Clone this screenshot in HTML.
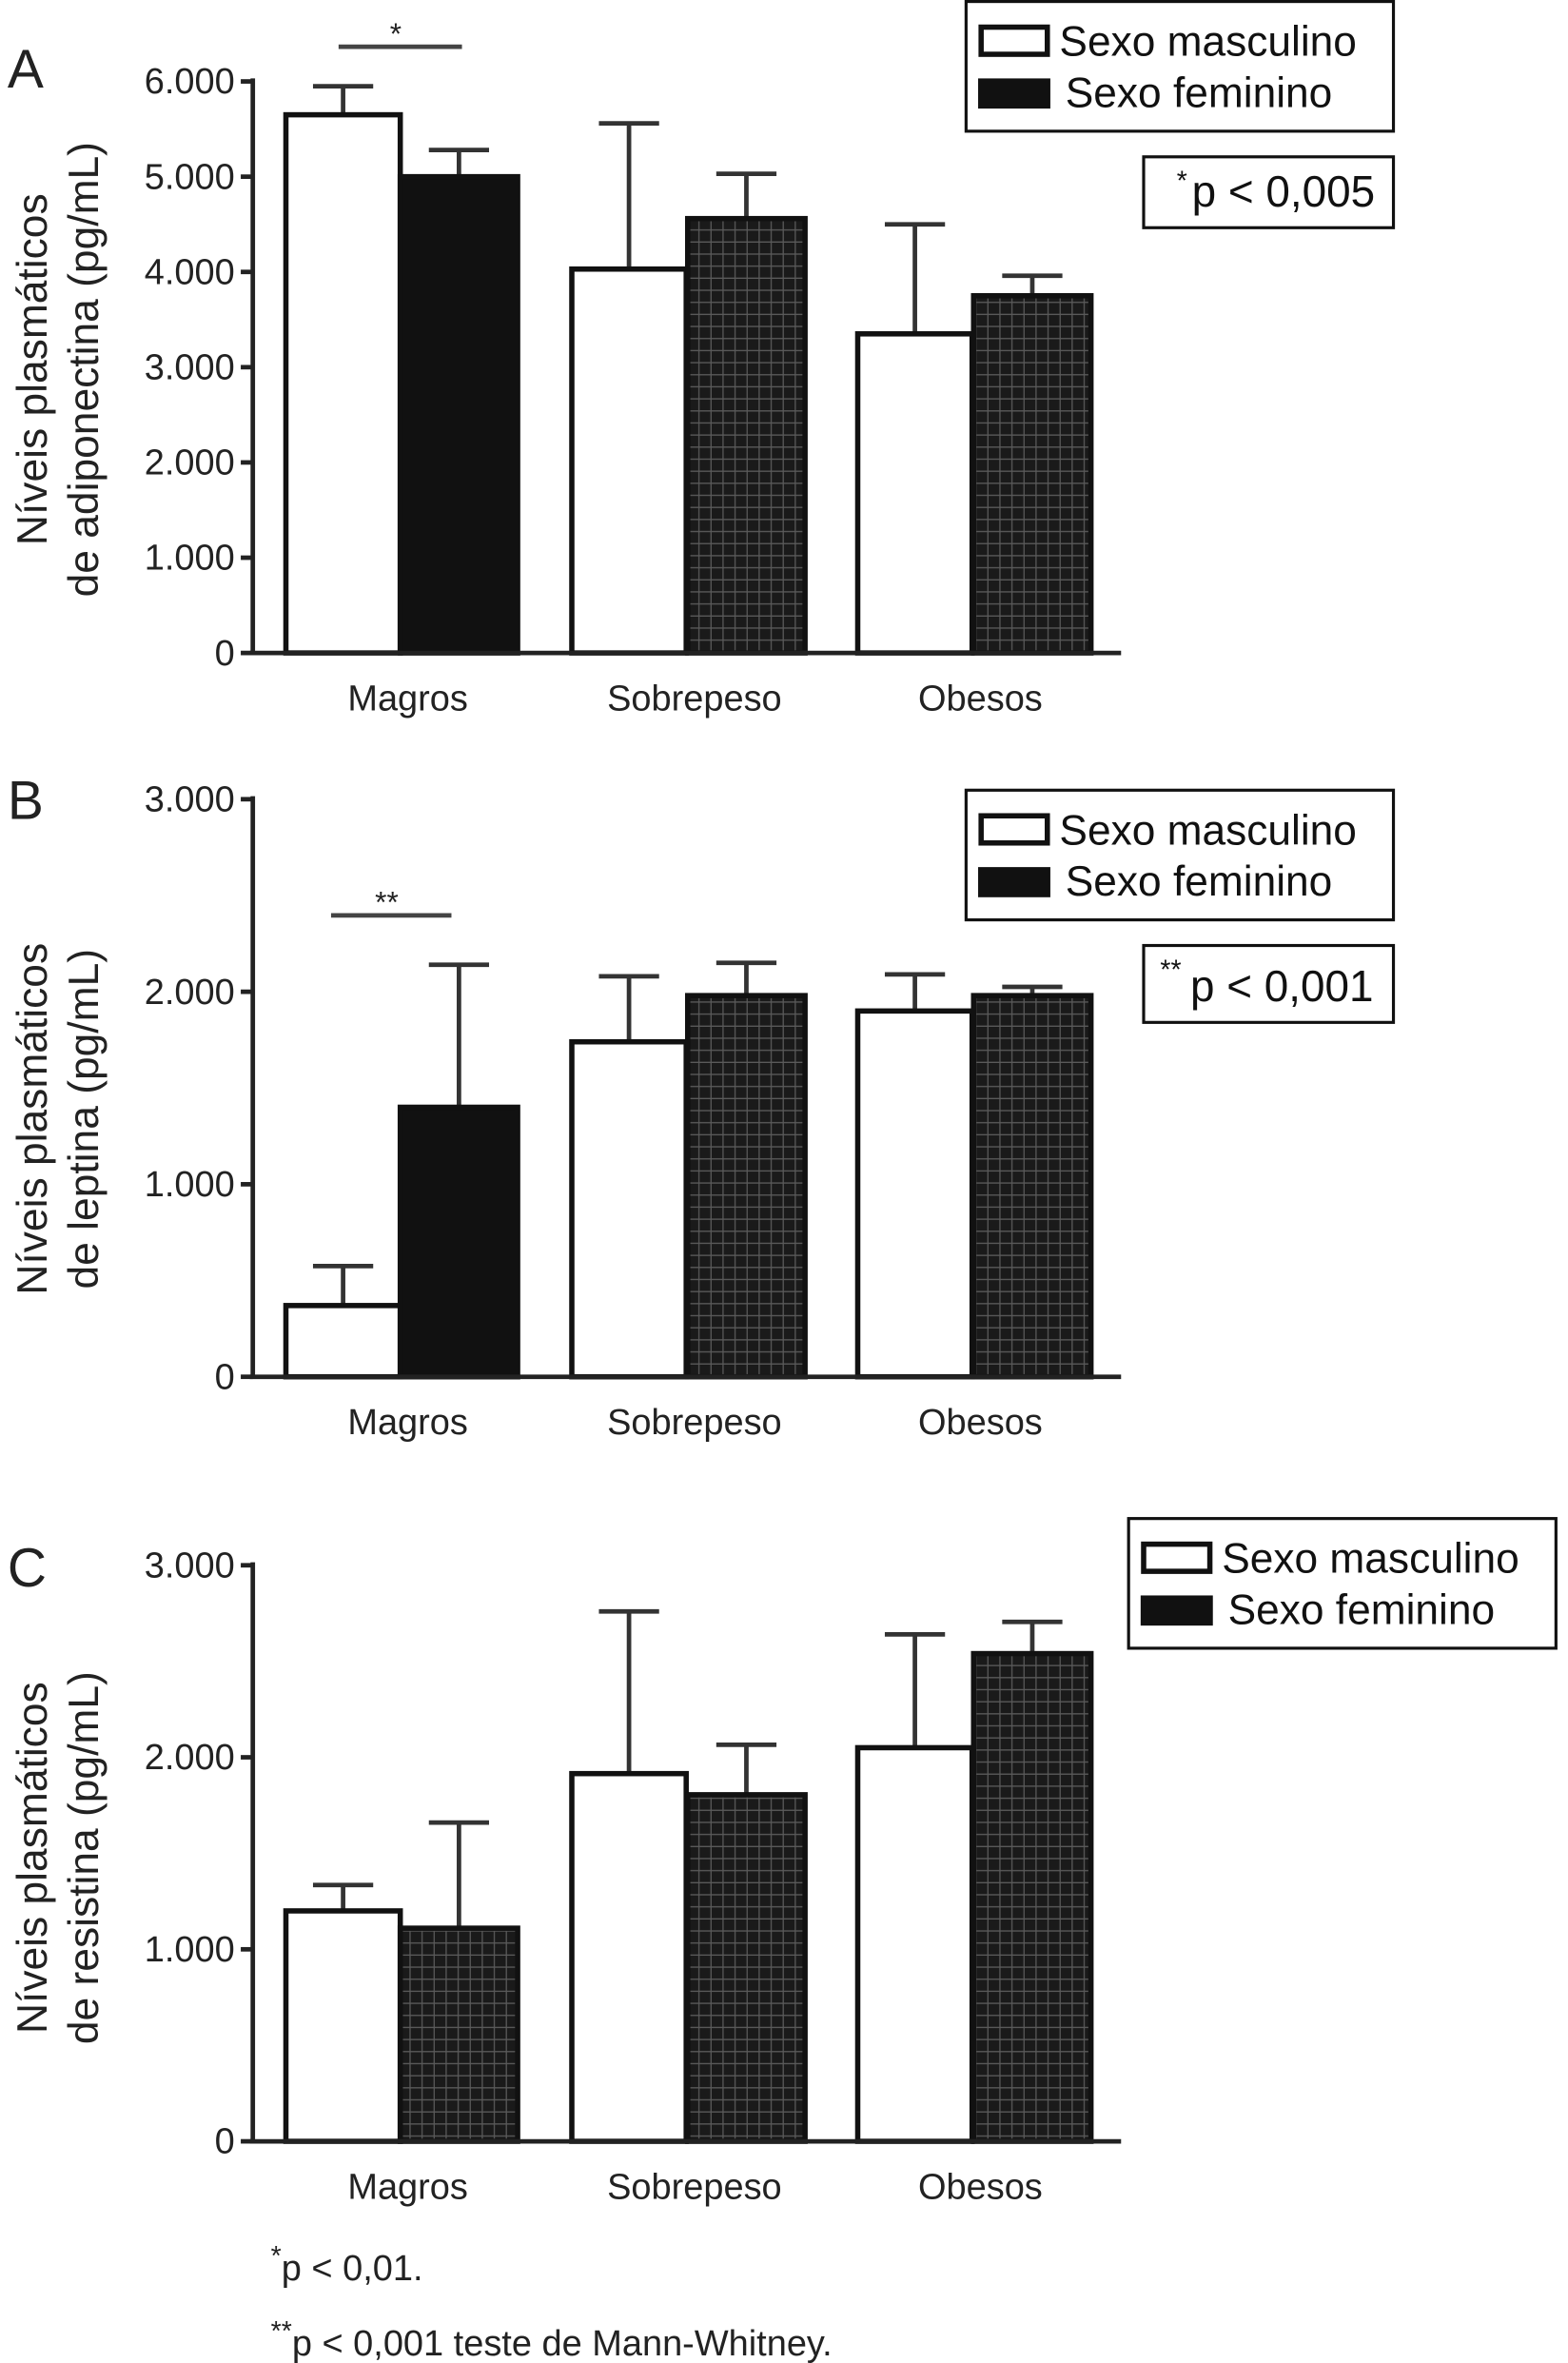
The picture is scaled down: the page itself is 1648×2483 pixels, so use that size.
<!DOCTYPE html>
<html><head><meta charset="utf-8"><style>
html,body{margin:0;padding:0;background:#fff;}
svg{display:block;font-family:"Liberation Sans",Arial,sans-serif;}
</style></head><body>
<svg id="chart" width="1648" height="2483" viewBox="0 0 1042 1567" preserveAspectRatio="none" xmlns="http://www.w3.org/2000/svg">
<defs>
<pattern id="hatch" width="8" height="8" patternUnits="userSpaceOnUse">
<rect width="8" height="8" fill="#1a1a1a"/>
<path d="M0 0.5H8M0.5 0V8" stroke="#5a5a5a" stroke-width="0.8"/>
</pattern>
</defs>
<g id="root"></g>
</svg>
<script>
const categories = ["Magros","Sobrepeso","Obesos"];
const maleA = [5650,4030,3350], maleErrA = [5950,5560,4500];
const femA = [5000,4560,3750], femErrA = [5280,5030,3960];
const ticksA = [0,1000,2000,3000,4000,5000,6000];
const tickLabelsA = ["0","1.000","2.000","3.000","4.000","5.000","6.000"];
const maleB = [370,1740,1900], maleErrB = [575,2080,2090];
const femB = [1400,1980,1980], femErrB = [2140,2150,2025];
const ticksB = [0,1000,2000,3000];
const tickLabelsB = ["0","1.000","2.000","3.000"];
const maleC = [1200,1915,2050], maleErrC = [1335,2760,2640];
const femC = [1110,1805,2540], femErrC = [1660,2065,2705];
const ticksC = [0,1000,2000,3000];
const tickLabelsC = ["0","1.000","2.000","3.000"];

const NS="http://www.w3.org/2000/svg";
const root=document.getElementById('root');
function mk(tag,attrs,parent,text){const e=document.createElementNS(NS,tag);for(const k in attrs)e.setAttribute(k,attrs[k]);if(text!==undefined)e.textContent=text;(parent||root).appendChild(e);return e;}

const groupX=[[190,266],[380,457],[570,647]];
const barW=[76,78];

function panel(cfg){
  const g=mk('g',{});
  
  
  const y=v=>cfg.y0-(v/cfg.max)*(cfg.y0-cfg.yTop);
  for(let i=0;i<categories.length;i++){
    const series=[[cfg.male,cfg.maleErr,'#fff','male'],[cfg.fem,cfg.femErr,(cfg.blackFirst&&i===0)?'#111':'url(#hatch)','female']];
    series.forEach((s,j)=>{
      const x=groupX[i][j],w=barW[j],v=s[0][i],e=s[1][i];
      const ex=x+w/2;
      const el=mk('line',{x1:ex,x2:ex,y1:y(v),y2:y(e),stroke:'#333','stroke-width':3},g);
      
      
      const cap=mk('line',{x1:ex-20,x2:ex+20,y1:y(e),y2:y(e),stroke:'#333','stroke-width':3},g);
      
      
      const r=mk('rect',{x:x,y:y(v),width:w,height:cfg.y0-y(v),fill:s[2],stroke:'#111','stroke-width':3.5},g);
      
      
    });
    const t=mk('text',{x:(groupX[i][0]+groupX[i][1]+barW[1])/2+4,y:cfg.y0+38,'font-size':24,'text-anchor':'middle',fill:'#222'},g,categories[i]);
    
    
  }
  const ya=mk('line',{x1:168,x2:168,y1:cfg.yTop-2,y2:cfg.y0,stroke:'#222','stroke-width':3},g);
  
  
  const xa=mk('line',{x1:166,x2:745,y1:cfg.y0,y2:cfg.y0,stroke:'#222','stroke-width':3},g);
  
  
  cfg.ticks.forEach((tv,k)=>{
    mk('line',{x1:160,x2:168,y1:y(tv),y2:y(tv),stroke:'#222','stroke-width':3},g);
    const t=mk('text',{x:156,y:y(tv)+8,'font-size':24,'text-anchor':'end',fill:'#222'},g,cfg.tickLabels[k]);
    
    
  });
  const yl=mk('text',{transform:`translate(${cfg.ylx},${cfg.yly}) rotate(-90)`,'font-size':28,'text-anchor':'middle',fill:'#222'},g);
  
  
  mk('tspan',{x:0,dy:0},yl,'Níveis plasmáticos');
  mk('tspan',{x:0,dy:34},yl,cfg.ylabel2);
  const L=mk('text',{x:5,y:cfg.letterY,'font-size':36,fill:'#222'},g,cfg.letter);
  
  
  const lx=cfg.legX,ly=cfg.legY;
  const lg=mk('g',{},g);
  
  
  mk('rect',{x:lx,y:ly,width:284,height:86,fill:'#fff',stroke:'#111','stroke-width':2},lg);
  mk('rect',{x:lx+10,y:ly+17,width:44,height:18,fill:'#fff',stroke:'#111','stroke-width':3.5},lg);
  mk('text',{x:lx+62,y:ly+36,'font-size':28,fill:'#111'},lg,'Sexo masculino');
  mk('rect',{x:lx+8,y:ly+51,width:48,height:20,fill:'#111'},lg);
  mk('text',{x:lx+66,y:ly+70,'font-size':28,fill:'#111'},lg,'Sexo feminino');
  if(cfg.pText){
    const pg=mk('g',{},g);
    
    
    mk('rect',{x:760,y:cfg.pY,width:166,height:cfg.pH,fill:'#fff',stroke:'#111','stroke-width':2},pg);
    mk('text',{x:cfg.pStarX,y:cfg.pY+22,'font-size':18,fill:'#111'},pg,cfg.pStar);
    mk('text',{x:cfg.pStarX+(cfg.pStar.length*10),y:cfg.pY+cfg.pH-14,'font-size':29,fill:'#111'},pg,cfg.pText);
  }
  if(cfg.sig){
    const s=mk('line',{x1:cfg.sig[0],x2:cfg.sig[1],y1:cfg.sig[2],y2:cfg.sig[2],stroke:'#444','stroke-width':3},g);
    
    
    mk('text',{x:(cfg.sig[0]+cfg.sig[1])/2-3,y:cfg.sig[2]-2,'font-size':20,'text-anchor':'middle',fill:'#222'},g,cfg.sigStar);
  }
}
panel({letter:'A',letterY:58,y0:433,yTop:54,max:6000,male:maleA,maleErr:maleErrA,fem:femA,femErr:femErrA,ticks:ticksA,tickLabels:tickLabelsA,ylx:31,yly:245,ylabel2:'de  adiponectina (pg/mL)',legX:642,legY:1,pText:'p < 0,005',pStar:'*',pStarX:782,pY:104,pH:47,sig:[225,307,31],sigStar:'*',blackFirst:true});
panel({letter:'B',letterY:543,y0:913,yTop:530,max:3000,male:maleB,maleErr:maleErrB,fem:femB,femErr:femErrB,ticks:ticksB,tickLabels:tickLabelsB,ylx:31,yly:742,ylabel2:'de leptina (pg/mL)',legX:642,legY:524,pText:'p < 0,001',pStar:'**',pStarX:771,pY:627,pH:51,sig:[220,300,607],sigStar:'**',blackFirst:true});
panel({letter:'C',letterY:1052,y0:1420,yTop:1038,max:3000,male:maleC,maleErr:maleErrC,fem:femC,femErr:femErrC,ticks:ticksC,tickLabels:tickLabelsC,ylx:31,yly:1232,ylabel2:'de resistina (pg/mL)',legX:750,legY:1007,blackFirst:false});
const f1=mk('text',{x:180,y:1512,'font-size':24,fill:'#222'});


mk('tspan',{dy:-10,'font-size':18},f1,'*');
mk('tspan',{dy:10},f1,'p < 0,01.');
const f2=mk('text',{x:180,y:1562,'font-size':24,fill:'#222'});


mk('tspan',{dy:-10,'font-size':18},f2,'**');
mk('tspan',{dy:10},f2,'p < 0,001 teste de Mann-Whitney.');
</script>
</body></html>
